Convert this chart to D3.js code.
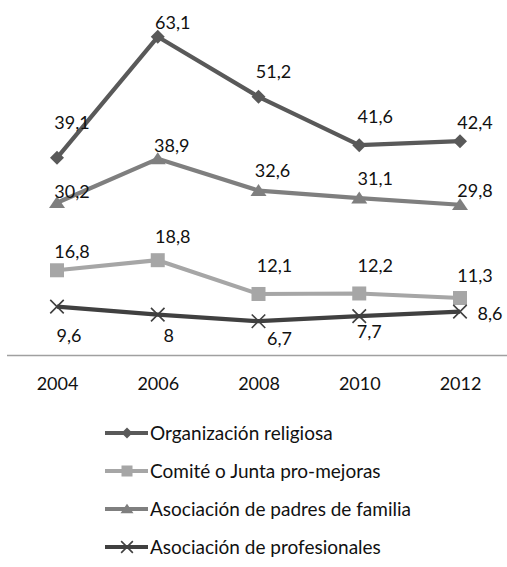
<!DOCTYPE html>
<html>
<head>
<meta charset="utf-8">
<script src="https://cdn.jsdelivr.net/npm/d3@7/dist/d3.min.js"></script>
<style>
  html, body { margin: 0; padding: 0; background: #fff; }
  svg { display: block; }
  text { font-family: Lato, "Open Sans", sans-serif; fill: #111; }
</style>
</head>
<body>
<svg id="chart" width="507" height="567"></svg>
<script>
// Years on the horizontal axis
const years = [2004, 2006, 2008, 2010, 2012];

// Series names (legend order) and values, in percent
const seriesNames = [
  "Organización religiosa",
  "Comité o Junta pro-mejoras",
  "Asociación de padres de familia",
  "Asociación de profesionales"
];
const religiosa     = [39.1, 63.1, 51.2, 41.6, 42.4];
const comite        = [16.8, 18.8, 12.1, 12.2, 11.3];
const padres        = [30.2, 38.9, 32.6, 31.1, 29.8];
const profesionales = [9.6, 8.0, 6.7, 7.7, 8.6];
const seriesValues = [religiosa, comite, padres, profesionales];

// Styling per series
const colors  = ["#595959", "#a6a6a6", "#7f7f7f", "#404040"];
const symbols = ["diamond", "square", "triangle", "cross"];

// Value-label placement (dx, dy from the point to the label's centre/baseline)
const labelOffsets = [
  [[15, -29], [15, -8], [15, -19], [16, -22], [15, -12]],
  [[15, -12], [15, -17], [16, -22], [16, -21], [15, -16]],
  [[15, -5], [14, -7], [14, -14], [16, -13], [15, -8]],
  [[12, 35], [11, 27], [21, 24], [10, 22], [30, 8]]
];

const fmt = v => String(v).replace(".", ",");

const svg = d3.select("#chart");

const x = d3.scalePoint().domain(years).range([57, 460]);
const y = d3.scaleLinear().domain([0, 70]).range([355, 2]);

// Category axis along the baseline
const axis = svg.append("g")
  .attr("transform", "translate(0,355)")
  .call(d3.axisBottom(x).tickSize(0).tickPadding(22).tickSizeOuter(0));
axis.select(".domain").remove();
axis.selectAll("text")
  .attr("font-size", 18)
  .attr("font-family", "Lato, 'Open Sans', sans-serif")
  .attr("fill", "#111");
svg.append("line")
  .attr("x1", 7).attr("x2", 507)
  .attr("y1", 355.5).attr("y2", 355.5)
  .attr("stroke", "#a0a0a0").attr("stroke-width", 1.5);

function drawMarker(g, type, color, size) {
  const s = size / 2;
  if (type === "diamond") {
    g.append("path").attr("d", `M0,${-s}L${s},0L0,${s}L${-s},0Z`).attr("fill", color);
  } else if (type === "square") {
    g.append("rect").attr("x", -s).attr("y", -s).attr("width", size).attr("height", size).attr("fill", color);
  } else if (type === "triangle") {
    const h = size * 0.85;
    g.append("path").attr("d", `M0,${-h * 0.55}L${s + 1},${h * 0.45}L${-s - 1},${h * 0.45}Z`).attr("fill", color);
  } else if (type === "cross") {
    const c = s * 0.9;
    g.append("path").attr("d", `M${-c},${-c}L${c},${c}M${c},${-c}L${-c},${c}`)
      .attr("stroke", color).attr("stroke-width", 1.6).attr("fill", "none");
  }
}

const line = d3.line().x((d, i) => x(years[i])).y(d => y(d));

// Draw from the back: lighter lines first, darkest on top
const drawOrder = [2, 1, 0, 3];
drawOrder.forEach(si => {
  const vals = seriesValues[si];
  const g = svg.append("g");
  g.append("path")
    .datum(vals)
    .attr("d", line)
    .attr("fill", "none")
    .attr("stroke", colors[si])
    .attr("stroke-width", 4.2)
    .attr("stroke-linejoin", "round");
  vals.forEach((v, i) => {
    const m = g.append("g").attr("transform", `translate(${x(years[i])},${y(v)})`);
    drawMarker(m, symbols[si], colors[si], si === 3 ? 15 : 14);
  });
});

// Value labels
seriesValues.forEach((vals, si) => {
  vals.forEach((v, i) => {
    const [dx, dy] = labelOffsets[si][i];
    svg.append("text")
      .attr("x", x(years[i]) + dx)
      .attr("y", y(v) + dy)
      .attr("text-anchor", "middle")
      .attr("font-size", 18)
      .text(fmt(v));
  });
});

// Legend
const legendY = [433, 471, 509, 547];
seriesNames.forEach((name, si) => {
  const g = svg.append("g").attr("transform", `translate(0,${legendY[si]})`);
  g.append("line")
    .attr("x1", 105).attr("x2", 148)
    .attr("y1", 0).attr("y2", 0)
    .attr("stroke", colors[si]).attr("stroke-width", 4.2);
  const m = g.append("g").attr("transform", "translate(127,0)");
  drawMarker(m, symbols[si], colors[si], si === 3 ? 13 : 11);
  g.append("text")
    .attr("x", 150).attr("y", 6.5)
    .attr("font-size", 19)
    .text(name);
});
</script>
</body>
</html>
